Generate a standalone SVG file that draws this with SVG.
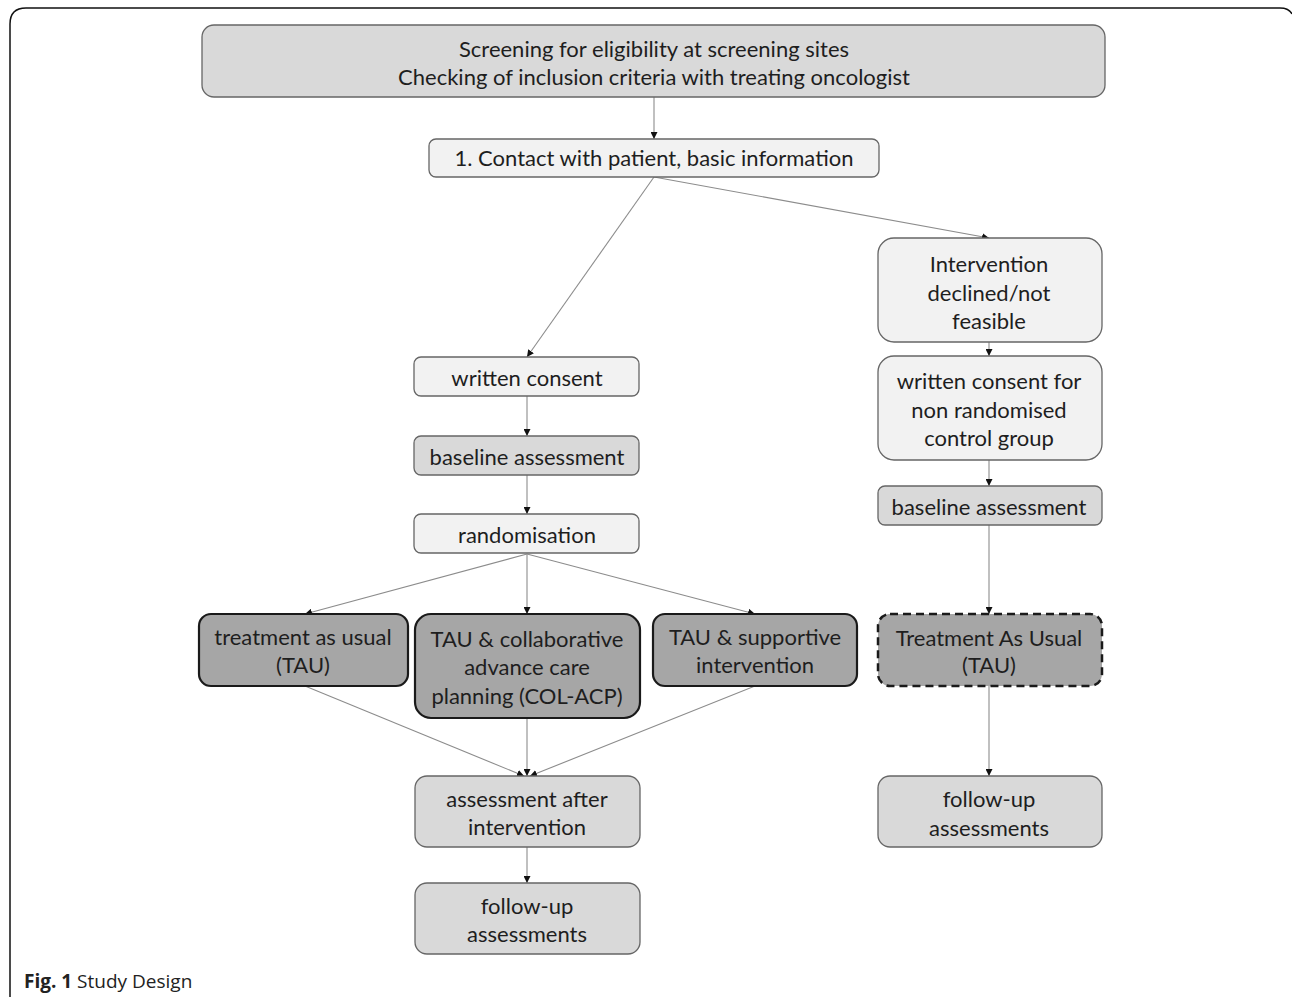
<svg xmlns="http://www.w3.org/2000/svg" width="1292" height="997" viewBox="0 0 1292 997">
<defs>
<marker id="ah" viewBox="0 0 10 10" refX="10" refY="5" markerWidth="7" markerHeight="7" markerUnits="userSpaceOnUse" orient="auto">
<path d="M0,0 L10,5 L0,10 z" fill="#111"/>
</marker>
</defs>
<style>
.t{font-family:Lato,"Liberation Sans",sans-serif;font-size:22px;fill:#1e1e1e;text-anchor:middle;dominant-baseline:central}
.light{fill:#f2f2f2;stroke:#666;stroke-width:1.3}
.mid{fill:#d9d9d9;stroke:#666;stroke-width:1.3}
.dark{fill:#a6a6a6;stroke:#1a1a1a;stroke-width:2.2}
.dash{fill:#a6a6a6;stroke:#1a1a1a;stroke-width:2.5;stroke-dasharray:8 5}
.c{stroke:#8c8c8c;stroke-width:1.1;fill:none;marker-end:url(#ah)}
</style>
<rect width="1292" height="997" fill="#fff"/>
<path d="M10,997 V24 Q10,8 26,8 H1280 Q1289,8 1292,14" fill="none" stroke="#111" stroke-width="1.5"/>

<g id="connectors">
<line class="c" x1="654" y1="97" x2="654" y2="139"/>
<line class="c" x1="654" y1="177" x2="527" y2="357"/>
<line class="c" x1="654" y1="177" x2="989" y2="238"/>
<line class="c" x1="989" y1="342" x2="989" y2="356"/>
<line class="c" x1="989" y1="460" x2="989" y2="486"/>
<line class="c" x1="989" y1="525" x2="989" y2="614"/>
<line class="c" x1="989" y1="686" x2="989" y2="776"/>
<line class="c" x1="527" y1="396" x2="527" y2="436"/>
<line class="c" x1="527" y1="475" x2="527" y2="514"/>
<line class="c" x1="527" y1="554" x2="305" y2="614"/>
<line class="c" x1="527" y1="554" x2="527" y2="614"/>
<line class="c" x1="527" y1="554" x2="755" y2="614"/>
<line class="c" x1="305" y1="686" x2="524" y2="776"/>
<line class="c" x1="527" y1="718" x2="527" y2="776"/>
<line class="c" x1="755" y1="686" x2="530" y2="776"/>
<line class="c" x1="527" y1="847" x2="527" y2="883"/>
</g>

<g id="screening">
<rect class="mid" x="202" y="25" width="903" height="72" rx="12"/>
<text class="t" x="654" y="48">Screening for eligibility at screening sites</text>
<text class="t" x="654" y="76">Checking of inclusion criteria with treating oncologist</text>
</g>
<g id="contact">
<rect class="light" x="429" y="139" width="450" height="38" rx="7"/>
<text class="t" x="654" y="157">1. Contact with patient, basic information</text>
</g>
<g id="declined">
<rect class="light" x="878" y="238" width="224" height="104" rx="16"/>
<text class="t" x="989" y="263">Intervention</text>
<text class="t" x="989" y="292">declined/not</text>
<text class="t" x="989" y="320">feasible</text>
</g>
<g id="consent-nonrand">
<rect class="light" x="878" y="356" width="224" height="104" rx="16"/>
<text class="t" x="989" y="380">written consent for</text>
<text class="t" x="989" y="409">non randomised</text>
<text class="t" x="989" y="437">control group</text>
</g>
<g id="baseline-right">
<rect class="mid" x="878" y="486" width="224" height="39" rx="7"/>
<text class="t" x="989" y="506">baseline assessment</text>
</g>
<g id="tau-right">
<rect class="dash" x="878" y="614" width="224" height="72" rx="12"/>
<text class="t" x="989" y="637">Treatment As Usual</text>
<text class="t" x="989" y="664">(TAU)</text>
</g>
<g id="followup-right">
<rect class="mid" x="878" y="776" width="224" height="71" rx="12"/>
<text class="t" x="989" y="798">follow-up</text>
<text class="t" x="989" y="827">assessments</text>
</g>
<g id="written-consent">
<rect class="light" x="414" y="357" width="225" height="39" rx="7"/>
<text class="t" x="527" y="377">written consent</text>
</g>
<g id="baseline-left">
<rect class="mid" x="414" y="436" width="225" height="39" rx="7"/>
<text class="t" x="527" y="456">baseline assessment</text>
</g>
<g id="randomisation">
<rect class="light" x="414" y="514" width="225" height="39" rx="7"/>
<text class="t" x="527" y="534">randomisation</text>
</g>
<g id="tau-left">
<rect class="dark" x="199" y="614" width="209" height="72" rx="12"/>
<text class="t" x="303" y="636">treatment as usual</text>
<text class="t" x="303" y="664">(TAU)</text>
</g>
<g id="col-acp">
<rect class="dark" x="415" y="614" width="225" height="104" rx="16"/>
<text class="t" x="527" y="638">TAU &amp; collaborative</text>
<text class="t" x="527" y="666">advance care</text>
<text class="t" x="527" y="695">planning (COL-ACP)</text>
</g>
<g id="supportive">
<rect class="dark" x="653" y="614" width="204" height="72" rx="12"/>
<text class="t" x="755" y="636">TAU &amp; supportive</text>
<text class="t" x="755" y="664">intervention</text>
</g>
<g id="assessment-after">
<rect class="mid" x="415" y="776" width="225" height="71" rx="12"/>
<text class="t" x="527" y="798">assessment after</text>
<text class="t" x="527" y="826">intervention</text>
</g>
<g id="followup-left">
<rect class="mid" x="415" y="883" width="225" height="71" rx="12"/>
<text class="t" x="527" y="905">follow-up</text>
<text class="t" x="527" y="933">assessments</text>
</g>
<text x="24" y="988" font-family="'Open Sans','Noto Sans',sans-serif" font-size="19" fill="#222"><tspan font-weight="bold">Fig. 1</tspan> Study Design</text>
</svg>
